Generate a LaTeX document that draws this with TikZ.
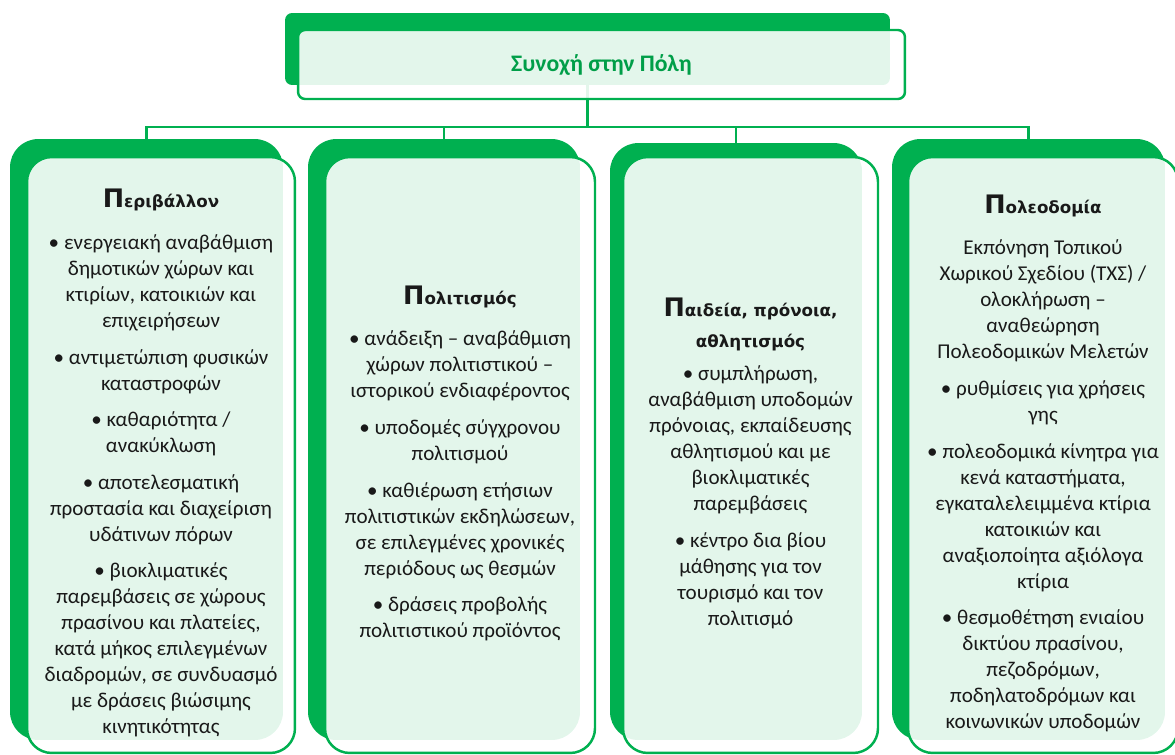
\documentclass[tikz,border=0pt]{standalone}
\usepackage{fontspec}
\setmainfont{Carlito}
\newfontfamily\headfont{DejaVu Sans}
\usetikzlibrary{positioning}
\definecolor{polisgreen}{RGB}{0, 176, 80}
\definecolor{polisink}{RGB}{25, 25, 25}
\definecolor{polistitle}{RGB}{0, 158, 72}

% header with an enlarged first letter
\newcommand{\colhead}[2]{{\rule{0pt}{20pt}\headfont\bfseries{\fontsize{14.5}{15}\selectfont #1}{\fontsize{9.5}{15}\selectfont #2}}}

\begin{document}
\begin{tikzpicture}[x=0.02cm, y=-0.02cm,
    backbox/.style={fill=polisgreen, rounded corners=16pt, inner sep=0pt},
    frontbox/.style={draw=polisgreen, line width=1.4pt, fill=white, fill opacity=0.89,
        text opacity=1, rounded corners=14pt, align=center, text=polisink,
        font=\fontsize{12}{14.8}\selectfont, inner sep=0pt},
    link/.style={draw=polisgreen, line width=1.4pt}
]
\useasboundingbox (0,0) rectangle (1175,754);

% Back panels
\node[backbox, rounded corners=4pt, minimum width=12.10cm, minimum height=1.44cm] (title-bk) at (587.5, 49) {};
\node[backbox, minimum width=5.46cm, minimum height=12.02cm] (env-bk) at (146.5, 439.5) {};
\node[backbox, minimum width=5.44cm, minimum height=12.02cm] (cult-bk) at (444, 439.5) {};
\node[backbox, minimum width=5.04cm, minimum height=11.94cm] (edu-bk) at (736, 441.5) {};
\node[backbox, minimum width=5.46cm, minimum height=12.02cm] (plan-bk) at (1028.5, 439.5) {};

% Connectors
\coordinate (bus) at (587.5, 127);
\draw[link] (title-bk.south) -- (bus);
\draw[link] (env-bk.north) |- (bus) -| (plan-bk.north);
\draw[link] (cult-bk.north) -- (cult-bk.north |- bus);
\draw[link] (edu-bk.north) -- (edu-bk.north |- bus);

% Title
\node[frontbox, rounded corners=4pt, minimum width=12.14cm, minimum height=1.38cm,
    font=\fontsize{13.5}{16}\selectfont\bfseries, text=polistitle] (title) at (601.5, 64.5) {Συνοχή στην Πόλη};

% Columns
\node[frontbox, minimum width=5.36cm, minimum height=11.92cm] (env) at (161, 455) {\colhead{Π}{εριβάλλον}\\[9pt]
    • ενεργειακή αναβάθμιση\\ δημοτικών χώρων και\\ κτιρίων, κατοικιών και\\ επιχειρήσεων\\[6pt]
    • αντιμετώπιση φυσικών\\ καταστροφών\\[6pt]
    • καθαριότητα /\\ ανακύκλωση\\[6pt]
    • αποτελεσματική\\ προστασία και διαχείριση\\ υδάτινων πόρων\\[6pt]
    • βιοκλιματικές\\ παρεμβάσεις σε χώρους\\ πρασίνου και πλατείες,\\ κατά μήκος επιλεγμένων\\ διαδρομών, σε συνδυασμό\\ με δράσεις βιώσιμης\\ κινητικότητας};

\node[frontbox, minimum width=5.40cm, minimum height=11.92cm] (cult) at (460, 455) {\colhead{Π}{ολιτισμός}\\[9pt]
    • ανάδειξη – αναβάθμιση\\ χώρων πολιτιστικού –\\ ιστορικού ενδιαφέροντος\\[6pt]
    • υποδομές σύγχρονου\\ πολιτισμού\\[6pt]
    • καθιέρωση ετήσιων\\ πολιτιστικών εκδηλώσεων,\\ σε επιλεγμένες χρονικές\\ περιόδους ως θεσμών\\[6pt]
    • δράσεις προβολής\\ πολιτιστικού προϊόντος};

\node[frontbox, minimum width=5.10cm, minimum height=11.92cm] (edu) at (750.5, 455) {\colhead{Π}{αιδεία, πρόνοια,}\\[3pt]
    {\headfont\bfseries\fontsize{9.5}{15}\selectfont αθλητισμός}\\[4pt]
    • συμπλήρωση,\\ αναβάθμιση υποδομών\\ πρόνοιας, εκπαίδευσης\\ αθλητισμού και με\\ βιοκλιματικές\\ παρεμβάσεις\\[6pt]
    • κέντρο δια βίου\\ μάθησης για τον\\ τουρισμό και τον\\ πολιτισμό};

\node[frontbox, minimum width=5.40cm, minimum height=11.92cm] (plan) at (1043, 455) {\colhead{Π}{ολεοδομία}\\[9pt]
    Εκπόνηση Τοπικού\\ Χωρικού Σχεδίου (ΤΧΣ) /\\ ολοκλήρωση –\\ αναθεώρηση\\ Πολεοδομικών Μελετών\\[6pt]
    • ρυθμίσεις για χρήσεις\\ γης\\[6pt]
    • πολεοδομικά κίνητρα για\\ κενά καταστήματα,\\ εγκαταλελειμμένα κτίρια\\ κατοικιών και\\ αναξιοποίητα αξιόλογα\\ κτίρια\\[6pt]
    • θεσμοθέτηση ενιαίου\\ δικτύου πρασίνου,\\ πεζοδρόμων,\\ ποδηλατοδρόμων και\\ κοινωνικών υποδομών};

\end{tikzpicture}
\end{document}
